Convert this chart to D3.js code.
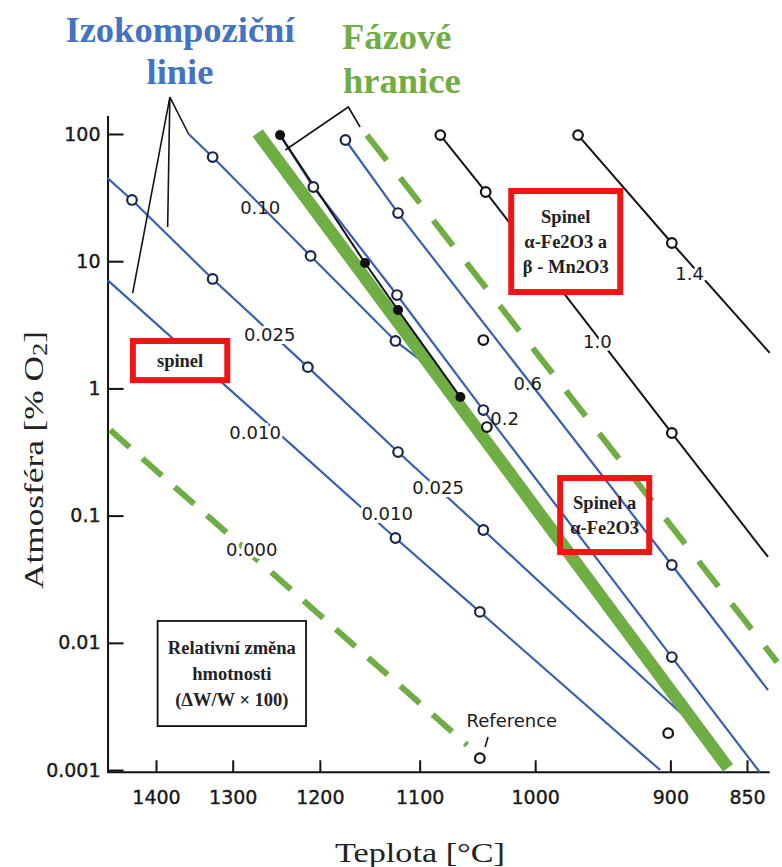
<!DOCTYPE html>
<html>
<head>
<meta charset="utf-8">
<title>Atmosfera vs teplota</title>
<style>
    body { margin: 0; background: #fff; }
    svg { display: block; }
    .tick text { font-family: "DejaVu Sans", sans-serif; font-size: 19px; fill: #1a1a1a; stroke: #1a1a1a; stroke-width: 0.4px; }
    .tick line, .domain { stroke: #111; stroke-width: 2px; }
    .serif { font-family: "Liberation Serif", "DejaVu Serif", serif; }
    .lbl { font-family: "DejaVu Sans", sans-serif; font-size: 18px; fill: #1a1a1a; }
</style>
</head>
<body>
<script src="https://cdn.jsdelivr.net/npm/d3@7"></script>
<script>
    // osy
    var xTicks = [1400, 1300, 1200, 1100, 1000, 900, 850];
    var yTicks = [100, 10, 1, 0.1, 0.01, 0.001];

    // izokompozicni linie: [teplota °C, % O2, krouzek 1/0]
    var iso010 = [[1356, 100, 0], [1325, 65.9, 1], [1210, 11.0, 1], [1123, 2.36, 1], [1090, 1.45, 0]];
    var iso0025 = [[1470, 45, 0], [1434, 30.3, 1], [1325, 7.25, 1], [1213, 1.47, 1], [1120.5, 0.316, 1], [1043, 0.0771, 1], [890, 0.00261, 0]];
    var iso0010 = [[1470, 7.1, 0], [1123, 0.0667, 1], [1046, 0.0175, 1], [907, 0.001, 0]];
    var iso02 = [[1244, 98, 0], [1207, 38.3, 1], [1121.5, 5.42, 1], [1043, 0.676, 1], [899, 0.00773, 1], [842, 0.00096, 0]];
    var iso06 = [[1173, 89.7, 1], [1120.5, 23.9, 1], [899, 0.0409, 1], [837, 0.00425, 0]];
    var iso10 = [[1081, 98, 1], [1041, 35.0, 1], [899, 0.446, 1], [837, 0.0473, 0]];
    var iso14 = [[966.5, 98, 1], [899, 13.9, 1], [836, 1.90, 0]];

    // fazove hranice
    var boundSolid = [[1270, 102], [862, 0.00104]];
    var boundDash1 = [[1151, 98], [831.5, 0.00706]];
    var boundDash2 = [[1466, 0.471], [1057, 0.00157]];
    var boundDots = [[1244, 98], [1153, 9.68], [1120.5, 4.13], [1063, 0.855]];

    // samostatne body
    var loosePts = [[1043, 2.40], [1040, 0.497], [901.5, 0.00195], [1046, 0.00124]];

    // popisky linii: [text, teplota, % O2, podklad]
    var lineLabels = [
        ['0.10', 1267, 26.2, 0], ['0.025', 1256, 2.63, 1], ['0.010', 1273, 0.454, 1],
        ['0.000', 1277, 0.0537, 1], ['0.6', 1006, 1.10, 0], ['0.2', 1025, 0.585, 0],
        ['0.025', 1083, 0.165, 1], ['0.010', 1131, 0.1047, 1], ['1.0', 952, 2.32, 1],
        ['1.4', 887, 8.07, 1], ['Reference', 1019, 0.00247, 0]
    ];

    // sipky / odkazy
    var ptrIzo = [[[1356, 100], [1381, 195], [1384, 18.6]], [[1381, 195], [1433, 5.62]]];
    var ptrFaz = [[1238, 74.8], [1170, 163], [1158, 113.5]];
    var ptrRef = [[1039, 0.00182], [1041.5, 0.00152]];

    // ramecky: [t1, t2, p1, p2, barva, vypln, radky]
    var boxes = [
        [1022, 933, 37.6, 5.42, 'red', '#fff', ['Spinel', 'α-Fe2O3 a', 'β - Mn2O3']],
        [1437, 1303, 2.49, 1.10, 'red', '#fff', ['spinel']],
        [982.6, 912.5, 0.2085, 0.049, 'red', 'none', ['Spinel a', 'α-Fe2O3']],
        [1399, 1214, 0.0151, 0.00218, 'black', '#fff', ['Relativní změna', 'hmotnosti', '(ΔW/W × 100)']]
    ];

    var w = 782, h = 867;
    var svg = d3.select('body').append('svg').attr('width', w).attr('height', h);

    var K = 273;
    var inv = function (t) { return 1 / (t + K); };
    var xs = d3.scaleLinear().domain([inv(1400), inv(850)]).range([156, 747]);
    var x = function (t) { return xs(inv(t)); };
    var y = d3.scaleLog().domain([0.00096, 140]).range([772.3, 115.4]);

    var line = d3.line().x(function (d) { return x(d[0]); }).y(function (d) { return y(d[1]); });

    // y osa
    svg.append('g').attr('transform', 'translate(' + x(1470) + ',0)')
        .call(d3.axisLeft(y).tickValues(yTicks).tickFormat(function (d) { return String(d); })
            .tickSizeInner(-16).tickSizeOuter(0).tickPadding(7));

    // x osa
    var gx = svg.append('g').attr('transform', 'translate(0,' + y(0.00096) + ')')
        .call(d3.axisBottom(xs).tickValues(xTicks.map(inv))
            .tickFormat(function (u) { return Math.round(1 / u - K); })
            .tickSizeInner(-12).tickSizeOuter(0).tickPadding(18));
    gx.select('.domain').remove();
    svg.append('line')
        .attr('x1', x(1470)).attr('x2', x(836))
        .attr('y1', y(0.00096)).attr('y2', y(0.00096))
        .attr('stroke', '#111').attr('stroke-width', 2);

    // fazove hranice - carkovane
    [boundDash1, boundDash2].forEach(function (d, i) {
        svg.append('path').attr('d', line(d)).attr('fill', 'none')
            .attr('stroke', '#6fae45').attr('stroke-width', 6)
            .attr('stroke-dasharray', i === 0 ? '32,22' : '26,17');
    });

    // modre izokompozicni linie
    [iso010, iso0025, iso0010, iso02, iso06].forEach(function (d) {
        svg.append('path').attr('d', line(d)).attr('fill', 'none')
            .attr('stroke', '#3a5eb0').attr('stroke-width', 2.2);
    });

    // plna fazova hranice
    svg.append('path').attr('d', line(boundSolid)).attr('fill', 'none')
        .attr('stroke', '#6fae45').attr('stroke-width', 12.5);

    // cerne linie
    [iso10, iso14, boundDots].forEach(function (d) {
        svg.append('path').attr('d', line(d)).attr('fill', 'none')
            .attr('stroke', '#151515').attr('stroke-width', 2);
    });

    // odkazy
    ptrIzo.concat([ptrFaz, ptrRef]).forEach(function (d) {
        svg.append('path').attr('d', line(d)).attr('fill', 'none')
            .attr('stroke', '#151515').attr('stroke-width', 1.6);
    });

    // krouzky
    var marks = [];
    [iso010, iso0025, iso0010, iso02, iso06].forEach(function (d) {
        d.filter(function (p) { return p[2]; }).forEach(function (p) { marks.push([p[0], p[1], '#1c2848']); });
    });
    [iso10, iso14].forEach(function (d) {
        d.filter(function (p) { return p[2]; }).forEach(function (p) { marks.push([p[0], p[1], '#151515']); });
    });
    loosePts.forEach(function (p) { marks.push([p[0], p[1], '#151515']); });

    svg.selectAll('circle.open').data(marks).enter().append('circle')
        .attr('class', 'open')
        .attr('cx', function (d) { return x(d[0]); })
        .attr('cy', function (d) { return y(d[1]); })
        .attr('r', 4.8).attr('fill', '#fff')
        .attr('stroke', function (d) { return d[2]; }).attr('stroke-width', 2.2);

    svg.selectAll('circle.dot').data(boundDots).enter().append('circle')
        .attr('class', 'dot')
        .attr('cx', function (d) { return x(d[0]); })
        .attr('cy', function (d) { return y(d[1]); })
        .attr('r', 5).attr('fill', '#111');

    // popisky linii
    lineLabels.forEach(function (d) {
        var t = svg.append('text').attr('class', 'lbl')
            .attr('x', x(d[1])).attr('y', y(d[2]))
            .attr('text-anchor', 'middle').attr('dominant-baseline', 'central')
            .text(d[0]);
        if (d[3]) t.attr('stroke', '#fff').attr('stroke-width', 6).attr('paint-order', 'stroke');
    });

    // ramecky
    boxes.forEach(function (b) {
        var x1 = x(b[0]), x2 = x(b[1]), y1 = y(b[2]), y2 = y(b[3]);
        var red = b[4] === 'red';
        var sw = red ? 6 : 1.8;
        svg.append('rect')
            .attr('x', x1 + sw / 2).attr('y', y1 + sw / 2)
            .attr('width', x2 - x1 - sw).attr('height', y2 - y1 - sw)
            .attr('fill', b[5]).attr('stroke', red ? '#f01414' : '#111').attr('stroke-width', sw);
        var n = b[6].length, step = red ? 25 : 26;
        var cx = (x1 + x2) / 2, cy = (y1 + y2) / 2;
        b[6].forEach(function (s, i) {
            svg.append('text').attr('class', 'serif')
                .attr('x', cx).attr('y', cy + (i - (n - 1) / 2) * step)
                .attr('text-anchor', 'middle').attr('dominant-baseline', 'central')
                .attr('font-weight', 'bold').attr('font-size', red ? 18.5 : 18.5)
                .attr('fill', '#222').text(s);
        });
    });

    // nadpisy
    function title(txt, tx, ty, anchor, color) {
        svg.append('text').attr('class', 'serif')
            .attr('x', tx).attr('y', ty).attr('text-anchor', anchor)
            .attr('font-weight', 'bold').attr('font-size', 36.5)
            .attr('fill', color).text(txt);
    }
    title('Izokompoziční', 180, 42, 'middle', '#4472c4');
    title('linie', 180, 84, 'middle', '#4472c4');
    title('Fázové', 342, 49, 'start', '#70ad47');
    title('hranice', 343, 93, 'start', '#70ad47');

    // popisky os
    function fit(t, len) {
        var wd = t.node().getComputedTextLength();
        t.attr('transform', t.attr('transform') + ' scale(' + (len / wd) + ',1)');
    }
    var xt = svg.append('text').attr('class', 'serif')
        .attr('transform', 'translate(420,862)')
        .attr('text-anchor', 'middle').attr('font-size', 28).attr('fill', '#222')
        .text('Teplota [°C]');
    fit(xt, 170);

    var yt = svg.append('text').attr('class', 'serif')
        .attr('transform', 'translate(43,460) rotate(-90)')
        .attr('text-anchor', 'middle').attr('font-size', 28).attr('fill', '#222');
    yt.append('tspan').text('Atmosféra [% O');
    yt.append('tspan').attr('font-size', 21).attr('dy', 4).text('2');
    yt.append('tspan').attr('dy', -4).text(']');
    fit(yt, 258);
</script>
</body>
</html>
